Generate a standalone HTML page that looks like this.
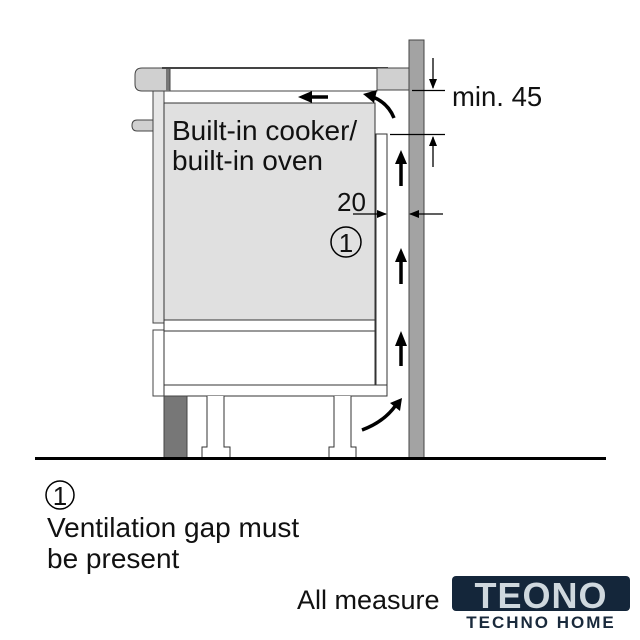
<!DOCTYPE html>
<html><head><meta charset="utf-8"><style>
html,body{margin:0;padding:0;background:#fff;}
svg{display:block;}
text{font-family:"Liberation Sans",Arial,sans-serif;fill:#111;}
</style></head><body>
<svg width="640" height="640" viewBox="0 0 640 640" xmlns="http://www.w3.org/2000/svg">
<defs>
<marker id="as" markerWidth="10" markerHeight="8" refX="9" refY="4" orient="auto" markerUnits="userSpaceOnUse">
<path d="M0,0 L10,4 L0,8 z" fill="#000"/></marker>
</defs>
<!-- wall -->
<rect x="409" y="40" width="15" height="418" fill="#a3a3a3" stroke="#444" stroke-width="1"/>
<!-- worktop -->
<path d="M142,68 L170,68 L170,91 L142,91 Q135,91 135,84 L135,75 Q135,68 142,68 z" fill="#d0d0d0" stroke="#444" stroke-width="1"/>
<rect x="166" y="68" width="4" height="23" fill="#777"/>
<rect x="170" y="68" width="207" height="23" fill="#fff" stroke="#444" stroke-width="1"/>
<line x1="162" y1="68" x2="388" y2="68" stroke="#444" stroke-width="2"/>
<rect x="377" y="68" width="32" height="22" fill="#d0d0d0" stroke="#444" stroke-width="1"/>
<!-- knob -->
<path d="M153,120 L137,120 Q132,120 132,125.5 Q132,131 137,131 L153,131 z" fill="#d0d0d0" stroke="#444" stroke-width="1"/>
<!-- left panel -->
<rect x="153" y="91" width="11" height="232" fill="#e6e6e6" stroke="#444" stroke-width="1"/>
<rect x="153" y="330" width="11" height="66" fill="#fff" stroke="#444" stroke-width="1"/>
<!-- appliance -->
<rect x="164" y="103" width="211" height="217" fill="#e0e0e0" stroke="#333" stroke-width="1"/>
<rect x="164" y="320" width="211" height="11" fill="#fff" stroke="#333" stroke-width="1"/>
<rect x="164" y="331" width="211" height="54" fill="#fff" stroke="#333" stroke-width="1"/>
<rect x="164" y="385" width="223" height="11" fill="#fff" stroke="#333" stroke-width="1"/>
<!-- right side panel -->
<rect x="376" y="134" width="11" height="251" fill="#fff" stroke="#333" stroke-width="1"/>
<!-- plinth -->
<rect x="164" y="396" width="23" height="62" fill="#777" stroke="#444" stroke-width="1"/>
<!-- feet -->
<path d="M207,396 L207,447 L202,447 L202,458 L230,458 L230,447 L224,447 L224,396" fill="#fff" stroke="#333" stroke-width="1"/>
<path d="M334,396 L334,447 L329,447 L329,458 L356,458 L356,447 L351,447 L351,396" fill="#fff" stroke="#333" stroke-width="1"/>
<!-- floor -->
<line x1="35" y1="458.5" x2="606" y2="458.5" stroke="#000" stroke-width="3"/>
<!-- dimension min 45 -->
<line x1="412" y1="90.5" x2="445" y2="90.5" stroke="#000" stroke-width="1.3"/>
<line x1="390" y1="134.5" x2="445" y2="134.5" stroke="#000" stroke-width="1.3"/>
<line x1="433" y1="58" x2="433" y2="88" stroke="#000" stroke-width="1.3" marker-end="url(#as)"/>
<line x1="433" y1="167" x2="433" y2="137" stroke="#000" stroke-width="1.3" marker-end="url(#as)"/>
<text x="452" y="106" font-size="27.5">min. 45</text>
<!-- dimension 20 -->
<line x1="353" y1="214" x2="386" y2="214" stroke="#000" stroke-width="1.3" marker-end="url(#as)"/>
<line x1="443" y1="214" x2="410" y2="214" stroke="#000" stroke-width="1.3" marker-end="url(#as)"/>
<text x="337" y="211" font-size="26">20</text>
<!-- airflow arrows -->
<g stroke="#000" stroke-width="3.5" fill="none">
<line x1="401" y1="186" x2="401" y2="162"/>
<line x1="401" y1="284" x2="401" y2="260"/>
<line x1="401" y1="366" x2="401" y2="344"/>
<line x1="328" y1="97" x2="310" y2="97"/>
<path d="M394,118 Q388,103 373,97"/>
<path d="M362,430 Q384,422 396,405"/>
</g>
<g fill="#000">
<path d="M401,150 L395,164 L407,164 z"/>
<path d="M401,248 L395,262 L407,262 z"/>
<path d="M401,331 L395,346 L407,346 z"/>
<path d="M298,97 L312,91 L312,103 z"/>
<path d="M363,94 L377,90 L374,103 z"/>
<path d="M402,398 L390,403 L400,411 z"/>
</g>
<!-- labels -->
<text x="172" y="140" font-size="28">Built-in cooker/</text>
<text x="172" y="170" font-size="28">built-in oven</text>
<circle cx="346" cy="242" r="15" fill="none" stroke="#000" stroke-width="1.5"/>
<text x="346" y="252" font-size="26" text-anchor="middle">1</text>
<circle cx="60" cy="495" r="14" fill="none" stroke="#000" stroke-width="1.5"/>
<text x="60" y="505" font-size="26" text-anchor="middle">1</text>
<text x="47" y="537" font-size="28">Ventilation gap must</text>
<text x="47" y="568" font-size="28">be present</text>
<text x="297" y="609" font-size="27">All measure</text>
<!-- logo -->
<rect x="445" y="574" width="190" height="56" fill="#fff"/>
<rect x="452" y="576" width="178" height="35" rx="4" fill="#14263a"/>
<text x="541" y="608" font-size="36" font-weight="bold" text-anchor="middle" style="fill:#cfd8de" letter-spacing="1">TEONO</text>
<text x="541" y="628" font-size="17" font-weight="bold" text-anchor="middle" style="fill:#1a2a3c" letter-spacing="2">TECHNO HOME</text>
</svg>
</body></html>
